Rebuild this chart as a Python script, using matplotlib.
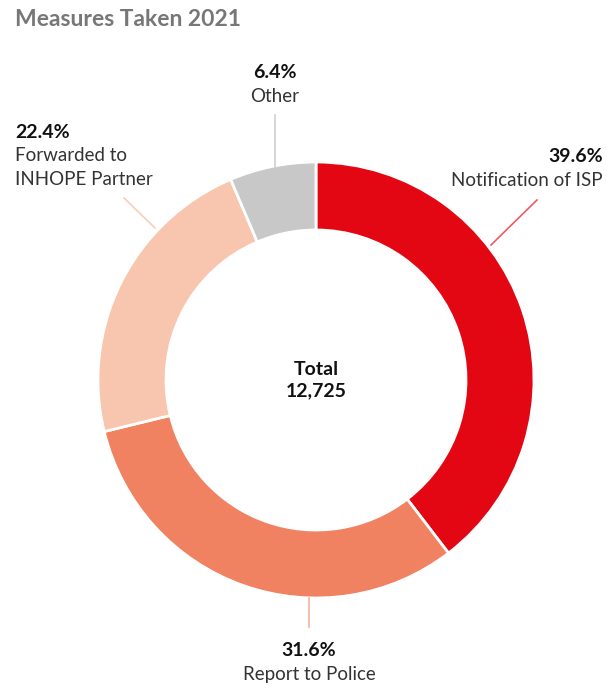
import matplotlib
matplotlib.use('Agg')
import matplotlib.pyplot as plt

plt.rcParams['font.family'] = ['Lato', 'DejaVu Sans']

TITLE = 'Measures Taken 2021'
CATEGORIES = ['Notification of ISP', 'Report to Police', 'Forwarded to\nINHOPE Partner', 'Other']
SHARES = [39.6, 31.6, 22.4, 6.4]
TOTAL = 12725

COLORS = ['#e30613', '#f08262', '#f8c5ae', '#c8c8c8']
LINE_COLORS = ['#ee5a63', '#f6b39e', '#f9cdb9', '#d0d0d0']

H = 686
CENTER = (316, H - 380)
RADIUS = 218


def main():
    fig = plt.figure(figsize=(6.07, 6.86), dpi=100)
    ax = fig.add_axes([0, 0, 1, 1])

    ax.pie(SHARES, colors=COLORS, startangle=90, counterclock=False,
           center=CENTER, radius=RADIUS, frame=True,
           wedgeprops=dict(width=68, edgecolor='white', linewidth=2))
    ax.set_xlim(0, 607)
    ax.set_ylim(0, H)
    ax.set_aspect('equal')
    ax.axis('off')

    ax.text(15, H - 20, TITLE, fontsize=16.5, fontweight='bold',
            color='#777777', va='center', ha='left')

    ax.text(316, H - 380, 'Total\n{:,}'.format(TOTAL), fontsize=14,
            fontweight='bold', color='#111111', ha='center', va='center',
            linespacing=1.3)

    # leader lines (pixel coords, y from top)
    leaders = [
        ((491, 245), (537, 200)),
        ((309, 598), (309, 627)),
        ((155, 228), (124, 198)),
        ((275, 167), (275, 115)),
    ]
    for (p0, p1), c in zip(leaders, LINE_COLORS):
        ax.plot([p0[0], p1[0]], [H - p0[1], H - p1[1]], color=c, lw=1.2)

    # label positions: (x, y of pct line, ha)
    label_pos = [
        (603, 157, 'right'),
        (309, 651, 'center'),
        (15, 132, 'left'),
        (275, 73, 'center'),
    ]
    for (x, y, ha), pct, name in zip(label_pos, SHARES, CATEGORIES):
        ax.text(x, H - y, '{:.1f}%'.format(pct), fontsize=14,
                fontweight='bold', color='#111111', ha=ha, va='center')
        ax.text(x, H - y - 15, name, fontsize=13.5, color='#333333',
                ha=ha, va='top', linespacing=1.5)

    fig.savefig('out.png', dpi=100)


if __name__ == '__main__':
    main()
